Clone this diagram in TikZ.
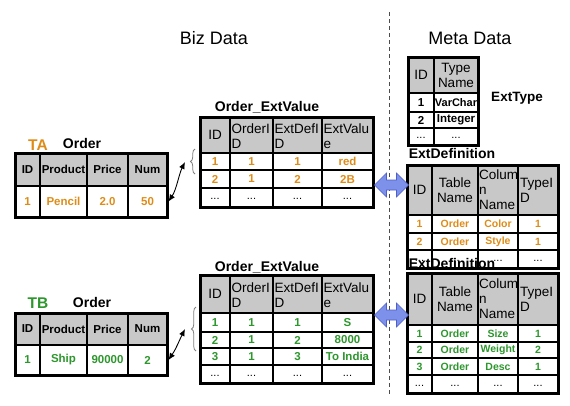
\documentclass[tikz,border=0pt]{standalone}
\usepackage{fontspec}
\setmainfont{Liberation Sans}
\usepackage{xcolor}
\usetikzlibrary{arrows.meta,decorations.pathreplacing,calc}

\definecolor{hdrgray}{RGB}{200,200,200}
\definecolor{taorange}{RGB}{222,140,24}
\definecolor{tbgreen}{RGB}{45,150,45}
\definecolor{fatblue}{RGB}{125,145,235}
\definecolor{fatedge}{RGB}{80,95,200}

\newcommand{\titlefont}{\fontsize{18}{20}\selectfont}
\newcommand{\namefont}{\fontsize{14}{16}\selectfont\bfseries}
\newcommand{\tagfont}{\fontsize{15.5}{17}\selectfont\bfseries}
\newcommand{\hdrfont}{\fontsize{13.5}{15}\selectfont}
\newcommand{\bhdrfont}{\fontsize{11.5}{13}\selectfont\bfseries}
\newcommand{\datafont}{\fontsize{11.5}{13}\selectfont\bfseries}
\newcommand{\smalldatafont}{\fontsize{10.5}{12}\selectfont\bfseries}
\newcommand{\dotfont}{\fontsize{11}{12}\selectfont}

\begin{document}
\begin{tikzpicture}[x=1pt, y=-1pt,
    hdr/.style={fill=hdrgray},
    gridline/.style={line width=1.1pt},
    tframe/.style={draw, line width=3pt, inner sep=0pt},
    hcell/.style={font=\hdrfont, inner sep=0pt, align=center},
    bhcell/.style={font=\bhdrfont, inner sep=0pt},
    dcell/.style={font=\datafont, inner sep=0pt},
    sdcell/.style={font=\smalldatafont, inner sep=0pt},
    dots/.style={font=\dotfont, inner sep=0pt},
    title/.style={font=\titlefont},
    tname/.style={font=\namefont, inner sep=0pt},
    link/.style={{Latex[length=7pt,width=6pt]}-{Latex[length=7pt,width=6pt]}, line width=0.9pt},
    brc/.style={decorate, decoration={brace, amplitude=4.5pt}, draw=gray, line width=0.8pt},
    fatarrow/.style={fill=fatblue, draw=fatedge, line width=0.6pt},
    sep/.style={draw=black!70, line width=1pt, dash pattern=on 4pt off 3pt}]

    \useasboundingbox (0,0) rectangle (570,405);

    \node[title] (biz) at (214,38) {Biz Data};
    \node[title] (meta) at (470,38) {Meta Data};
    \draw[sep] (389,12) -- (389,395);

    % ---- TA Order
    \node[font=\tagfont, text=taorange, inner sep=0pt] (taTag) at (38,145) {TA};
    \node[tname] (ordAname) at (82,143) {Order};
    \fill[hdr] (15,153) rectangle (167,186);
    \foreach \x in {40,87,128} \draw[gridline] (\x,153) -- (\x,217);
    \draw[gridline] (15,186) -- (167,186);
    \node[tframe, minimum width=152, minimum height=64] (ordA) at (91,185) {};
    \foreach \cx/\txt [count=\i] in {27.5/ID, 63.5/Product, 107.5/Price, 147.5/Num}
        \node[bhcell] (ordAh\i) at (\cx,169.5) {\txt};
    \foreach \cx/\txt [count=\i] in {27.5/1, 63.5/Pencil, 107.5/2.0, 147.5/50}
        \node[dcell, text=taorange] (ordAd\i) at (\cx,201.5) {\txt};

    % ---- TB Order
    \node[font=\tagfont, text=tbgreen, inner sep=0pt] (tbTag) at (38,303) {TB};
    \node[tname] (ordBname) at (92,302) {Order};
    \fill[hdr] (15,313) rectangle (167,345);
    \foreach \x in {40,87,128} \draw[gridline] (\x,313) -- (\x,375);
    \draw[gridline] (15,345) -- (167,345);
    \node[tframe, minimum width=152, minimum height=62] (ordB) at (91,344) {};
    \foreach \cx/\txt [count=\i] in {27.5/ID, 63.5/Product, 107.5/Price, 147.5/Num}
        \node[bhcell] (ordBh\i) at (\cx,329) {\txt};
    \foreach \cx/\txt [count=\i] in {27.5/1, 63.5/Ship, 107.5/90000, 147.5/2}
        \node[dcell, text=tbgreen] (ordBd\i) at (\cx,360) {\txt};

    % ---- Order_ExtValue (TA)
    \node[tname] (extvalAname) at (267,107) {Order\_ExtValue};
    \fill[hdr] (200,117) rectangle (373,153);
    \foreach \x in {230,273,322} \draw[gridline] (\x,117) -- (\x,207);
    \foreach \y in {153,170,188} \draw[gridline] (200,\y) -- (373,\y);
    \node[tframe, minimum width=173, minimum height=90] (extvalA) at (286.5,162) {};
    \node[hcell] (extvalAh1) at (215,135) {ID};
    \node[hcell, text width=41, align=left] (extvalAh2) at (252,136) {OrderI\\D};
    \node[hcell, text width=47, align=left] (extvalAh3) at (298,136) {ExtDefI\\D};
    \node[hcell, text width=49, align=left] (extvalAh4) at (348,136) {ExtValu\\e};
    \foreach \a/\b/\c/\d/\cy [count=\r] in {1/1/1/red/161.5, 2/1/2/2B/179}{
        \node[dcell, text=taorange] (extvalA\r a) at (215,\cy) {\a};
        \node[dcell, text=taorange] (extvalA\r b) at (251.5,\cy) {\b};
        \node[dcell, text=taorange] (extvalA\r c) at (297.5,\cy) {\c};
        \node[dcell, text=taorange] (extvalA\r d) at (347.5,\cy) {\d};
    }
    \foreach \cx [count=\i] in {215,251.5,297.5,347.5}
        \node[dots] (extvalAx\i) at (\cx,199) {...};

    % ---- Order_ExtValue (TB)
    \node[tname] (extvalBname) at (267,267) {Order\_ExtValue};
    \fill[hdr] (200,275) rectangle (373,313);
    \foreach \x in {230,273,322} \draw[gridline] (\x,275) -- (\x,383);
    \foreach \y in {313,332,348,365} \draw[gridline] (200,\y) -- (373,\y);
    \node[tframe, minimum width=173, minimum height=108] (extvalB) at (286.5,329) {};
    \node[hcell] (extvalBh1) at (215,294) {ID};
    \node[hcell, text width=41, align=left] (extvalBh2) at (252,295) {OrderI\\D};
    \node[hcell, text width=47, align=left] (extvalBh3) at (298,295) {ExtDefI\\D};
    \node[hcell, text width=49, align=left] (extvalBh4) at (348,295) {ExtValu\\e};
    \foreach \a/\b/\c/\d/\cy [count=\r] in {1/1/1/S/322.5, 2/1/2/8000/340, 3/1/3/To India/356.5}{
        \node[dcell, text=tbgreen] (extvalB\r a) at (215,\cy) {\a};
        \node[dcell, text=tbgreen] (extvalB\r b) at (251.5,\cy) {\b};
        \node[dcell, text=tbgreen] (extvalB\r c) at (297.5,\cy) {\c};
        \node[dcell, text=tbgreen] (extvalB\r d) at (347.5,\cy) {\d};
    }
    \foreach \cx [count=\i] in {215,251.5,297.5,347.5}
        \node[dots] (extvalBx\i) at (\cx,375.5) {...};

    % ---- ExtType
    \fill[hdr] (408,57) rectangle (478,93);
    \draw[gridline] (434,57) -- (434,145);
    \foreach \y in {93,112,128} \draw[gridline] (408,\y) -- (478,\y);
    \node[tframe, minimum width=70, minimum height=88] (exttype) at (443,101) {};
    \node[tname, font=\fontsize{13.5}{15}\selectfont\bfseries] (exttypeName) at (517,98) {ExtType};
    \node[hcell] (exttypeH1) at (421,75) {ID};
    \node[hcell] (exttypeH2) at (456,75) {Type\\Name};
    \node[dcell] (exttype1a) at (421,102.5) {1};
    \node[dcell, font=\fontsize{11}{13}\selectfont\bfseries] (exttype1b) at (456,102.5) {VarChar};
    \node[dcell] (exttype2a) at (421,120) {2};
    \node[dcell] (exttype2b) at (456,120) {Integer};
    \node[dots] (exttype3a) at (421,137.5) {...};
    \node[dots] (exttype3b) at (456,137.5) {...};

    % ---- ExtDefinition (TA)
    \node[tname] (extdefAname) at (452,153) {ExtDefinition};
    \fill[hdr] (407,165) rectangle (558,215);
    \foreach \x in {432,478,518} \draw[gridline] (\x,165) -- (\x,268);
    \foreach \y in {215,233,250} \draw[gridline] (407,\y) -- (558,\y);
    \node[tframe, minimum width=151, minimum height=103] (extdefA) at (482.5,216.5) {};
    \node[hcell] (extdefAh1) at (419.5,190) {ID};
    \node[hcell] (extdefAh2) at (455,190) {Table\\Name};
    \node[hcell, text width=40, align=left] (extdefAh3) at (499,190) {Colum\\n\\Name};
    \node[hcell, text width=38, align=left] (extdefAh4) at (539,190) {TypeI\\D};
    \foreach \a/\b/\c/\d/\cy [count=\r] in {1/Order/Color/1/224, 2/Order/Style/1/241.5}{
        \node[sdcell, text=taorange] (extdefA\r a) at (419.5,\cy) {\a};
        \node[sdcell, text=taorange] (extdefA\r b) at (455,\cy) {\b};
        \node[sdcell, text=taorange] (extdefA\r c) at (498,\cy) {\c};
        \node[sdcell, text=taorange] (extdefA\r d) at (538,\cy) {\d};
    }
    \foreach \cx [count=\i] in {419.5,455,498,538}
        \node[dots] (extdefAx\i) at (\cx,260.5) {...};

    % ---- ExtDefinition (TB)
    \fill[hdr] (407,273) rectangle (558,325);
    \foreach \x in {432,478,518} \draw[gridline] (\x,273) -- (\x,393);
    \foreach \y in {325,342,358,375} \draw[gridline] (407,\y) -- (558,\y);
    \node[tframe, minimum width=151, minimum height=120] (extdefB) at (482.5,333) {};
    \node[tname] (extdefBname) at (452,263) {ExtDefinition};
    \node[hcell] (extdefBh1) at (419.5,299) {ID};
    \node[hcell] (extdefBh2) at (455,299) {Table\\Name};
    \node[hcell, text width=40, align=left] (extdefBh3) at (499,299) {Colum\\n\\Name};
    \node[hcell, text width=38, align=left] (extdefBh4) at (539,299) {TypeI\\D};
    \foreach \a/\b/\c/\d/\cy [count=\r] in {1/Order/Size/1/333.5, 2/Order/Weight/2/350, 3/Order/Desc/1/366.5}{
        \node[sdcell, text=tbgreen] (extdefB\r a) at (419.5,\cy) {\a};
        \node[sdcell, text=tbgreen] (extdefB\r b) at (455,\cy) {\b};
        \node[sdcell, text=tbgreen] (extdefB\r c) at (498,\cy) {\c};
        \node[sdcell, text=tbgreen] (extdefB\r d) at (538,\cy) {\d};
    }
    \foreach \cx [count=\i] in {419.5,455,498,538}
        \node[dots] (extdefBx\i) at (\cx,385.5) {...};

    % ---- braces and links
    \draw[brc] (195,174) -- (195,149);
    \coordinate (brA) at (185,162);
    \draw[link] (brA) .. controls +(-6,12) and +(8,-12) .. (ordA.east |- ordAd4);
    \draw[brc] (196,351) -- (196,307);
    \coordinate (brB) at (185,329);
    \draw[link] (brB) .. controls +(-6,12) and +(8,-12) .. (ordB.east |- ordBd4);

    % ---- fat arrows to meta data
    \draw[fatarrow] ($(extvalA.east)+(0,23)$) -- ++(12,-12) -- ++(0,7) -- ++(10,0) -- ++(0,-7)
        -- ++(12,12) -- ++(-12,12) -- ++(0,-7) -- ++(-10,0) -- ++(0,7) -- cycle;
    \draw[fatarrow] ($(extvalB.east)+(0,-14)$) -- ++(12,-12) -- ++(0,7) -- ++(10,0) -- ++(0,-7)
        -- ++(12,12) -- ++(-12,12) -- ++(0,-7) -- ++(-10,0) -- ++(0,7) -- cycle;
\end{tikzpicture}
\end{document}
